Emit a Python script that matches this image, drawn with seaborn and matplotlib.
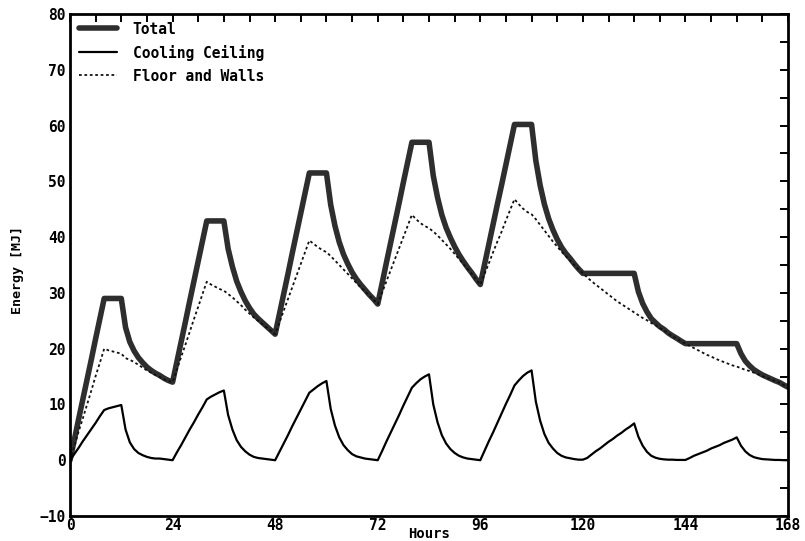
import numpy as np
import pandas as pd
import matplotlib
matplotlib.use("Agg")
import matplotlib.pyplot as plt
import seaborn as sns
from matplotlib.ticker import MultipleLocator

# ---- data (hourly values) ----
hours = list(range(0, 169))

total = [
    # day 1
    0, 3.6, 7.3, 10.9, 14.5, 18.1, 21.8, 25.4, 29.0, 29.0, 29.0, 29.0, 29.0,
    23.8, 21.2, 19.6, 18.4, 17.5, 16.7, 16.1, 15.6, 15.2, 14.7, 14.3,
    # day 2
    14.0, 17.6, 21.2, 24.8, 28.5, 32.1, 35.7, 39.3, 42.9, 42.9, 42.9, 42.9, 42.9,
    37.9, 34.7, 32.1, 30.2, 28.6, 27.3, 26.2, 25.4, 24.7, 24.0, 23.3,
    # day 3
    22.6, 26.2, 29.8, 33.4, 37.1, 40.7, 44.3, 47.9, 51.5, 51.5, 51.5, 51.5, 51.5,
    45.8, 42.0, 39.1, 36.9, 35.2, 33.7, 32.5, 31.5, 30.6, 29.7, 28.9,
    # day 4
    28.0, 31.6, 35.3, 38.9, 42.5, 46.1, 49.8, 53.4, 57.0, 57.0, 57.0, 57.0, 57.0,
    51.0, 47.1, 44.0, 41.7, 39.9, 38.3, 36.9, 35.7, 34.6, 33.6, 32.5,
    # day 5
    31.5, 35.1, 38.7, 42.3, 45.9, 49.4, 53.0, 56.6, 60.2, 60.2, 60.2, 60.2, 60.2,
    53.7, 49.3, 45.9, 43.3, 41.3, 39.6, 38.2, 37.1, 36.2, 35.2, 34.3,
    # day 6
    33.5, 33.5, 33.5, 33.5, 33.5, 33.5, 33.5, 33.5, 33.5, 33.5, 33.5, 33.5, 33.5,
    30.2, 28.1, 26.6, 25.4, 24.65, 23.95, 23.45, 22.8, 22.3, 21.85, 21.35,
    # day 7
    20.9, 20.9, 20.9, 20.9, 20.9, 20.9, 20.9, 20.9, 20.9, 20.9, 20.9, 20.9, 20.9,
    19.1, 17.8, 16.95, 16.25, 15.75, 15.3, 14.95, 14.6, 14.25, 13.95, 13.5,
    13.1,
]

cooling_ceiling = [
    0, 1.1, 2.2, 3.4, 4.5, 5.6, 6.7, 7.9, 9.0, 9.3, 9.5, 9.7, 9.9,
    5.5, 3.2, 2.0, 1.3, 0.9, 0.6, 0.4, 0.3, 0.3, 0.2, 0.1,
    0, 1.4, 2.7, 4.1, 5.5, 6.8, 8.2, 9.5, 10.9, 11.4, 11.8, 12.2, 12.5,
    8.1, 5.5, 3.6, 2.4, 1.6, 1.0, 0.6, 0.4, 0.3, 0.2, 0.1,
    0, 1.5, 3.0, 4.5, 6.1, 7.6, 9.1, 10.6, 12.1, 12.7, 13.3, 13.8, 14.2,
    9.2, 6.2, 4.1, 2.7, 1.8, 1.1, 0.7, 0.5, 0.3, 0.2, 0.1,
    0, 1.6, 3.3, 4.9, 6.5, 8.1, 9.8, 11.4, 13.0, 13.8, 14.5, 15.0, 15.4,
    10.0, 6.8, 4.5, 3.0, 2.0, 1.3, 0.8, 0.5, 0.3, 0.2, 0.1,
    0, 1.7, 3.4, 5.0, 6.7, 8.4, 10.1, 11.7, 13.4, 14.3, 15.1, 15.7, 16.1,
    10.5, 7.1, 4.7, 3.1, 2.1, 1.3, 0.8, 0.5, 0.35, 0.2, 0.1,
    0.1, 0.4, 1.0, 1.6, 2.1, 2.7, 3.3, 3.8, 4.4, 4.9, 5.5, 6.0, 6.6,
    4.2, 2.6, 1.5, 0.8, 0.45, 0.25, 0.15, 0.1, 0.1, 0.05, 0.05,
    0.05, 0.4, 0.8, 1.1, 1.4, 1.7, 2.1, 2.4, 2.7, 3.1, 3.4, 3.7, 4.1,
    2.6, 1.6, 0.95, 0.55, 0.35, 0.2, 0.15, 0.1, 0.05, 0.05, 0.0,
    0.0,
]

floor_and_walls = [
    0, 2.5, 5.1, 7.5, 10.0, 12.5, 15.1, 17.5, 20.0, 19.7, 19.5, 19.3, 19.1,
    18.3, 18.0, 17.6, 17.1, 16.6, 16.1, 15.7, 15.3, 14.9, 14.5, 14.2,
    14.0, 16.2, 18.5, 20.7, 23.0, 25.3, 27.5, 29.8, 32.0, 31.5, 31.1, 30.7, 30.4,
    29.8, 29.2, 28.5, 27.8, 27.0, 26.3, 25.6, 25.0, 24.4, 23.8, 23.2,
    22.6, 24.7, 26.8, 28.9, 31.0, 33.1, 35.2, 37.3, 39.4, 38.8, 38.2, 37.7, 37.3,
    36.6, 35.8, 35.0, 34.2, 33.4, 32.6, 31.8, 31.0, 30.3, 29.5, 28.8,
    28.0, 30.0, 32.0, 34.0, 36.0, 38.0, 40.0, 42.0, 44.0, 43.2, 42.5, 42.0, 41.6,
    41.0, 40.3, 39.5, 38.7, 37.9, 37.0, 36.1, 35.2, 34.3, 33.4, 32.4,
    31.5, 33.4, 35.3, 37.3, 39.2, 41.0, 43.0, 44.9, 46.8, 45.9, 45.1, 44.5, 44.1,
    43.2, 42.2, 41.2, 40.2, 39.2, 38.3, 37.4, 36.6, 35.8, 35.0, 34.2,
    33.5, 32.8, 32.1, 31.5, 30.9, 30.3, 29.7, 29.1, 28.5, 28.0, 27.5, 27.0, 26.5,
    26.0, 25.5, 25.1, 24.6, 24.2, 23.7, 23.3, 22.7, 22.2, 21.8, 21.3,
    20.9, 20.5, 20.1, 19.7, 19.3, 18.9, 18.6, 18.2, 17.9, 17.6, 17.3, 17.0, 16.8,
    16.5, 16.2, 16.0, 15.7, 15.4, 15.1, 14.8, 14.5, 14.2, 13.9, 13.5,
    13.1,
]

series_labels = ["Total", "Cooling Ceiling", "Floor and Walls"]
x_ticks = [0, 24, 48, 72, 96, 120, 144, 168]
y_ticks = [-10, 0, 10, 20, 30, 40, 50, 60, 70, 80]

df = pd.DataFrame({"Hours": hours, "Total": total,
                   "Cooling Ceiling": cooling_ceiling,
                   "Floor and Walls": floor_and_walls})

sns.set_theme(style="white")
plt.rcParams["font.family"] = ["DejaVu Sans Mono", "DejaVu Sans"]
plt.rcParams["font.weight"] = "bold"

fig = plt.figure(figsize=(8.05, 5.41), dpi=100)
ax = fig.add_axes([70 / 805, 25 / 541, 718 / 805, 502 / 541])

sns.lineplot(data=df, x="Hours", y="Total", ax=ax, color="#2e2e2e",
             linewidth=4.0, label=series_labels[0])
sns.lineplot(data=df, x="Hours", y="Cooling Ceiling", ax=ax, color="black",
             linewidth=1.6, label=series_labels[1])
sns.lineplot(data=df, x="Hours", y="Floor and Walls", ax=ax, color="#111111",
             linewidth=1.3, linestyle=(0, (1.5, 1.5)), label=series_labels[2])

ax.set_xlim(0, 168)
ax.set_ylim(-10, 80)
ax.set_xticks(x_ticks)
ax.set_yticks(y_ticks)
ax.xaxis.set_minor_locator(MultipleLocator(6))
ax.yaxis.set_minor_locator(MultipleLocator(5))
ax.tick_params(which="both", direction="in", top=True, right=True,
               length=6, width=1.4, color="black")
ax.tick_params(axis="x", which="major", labelsize=10.5, pad=1.5)
ax.tick_params(axis="y", which="major", labelsize=10.5, pad=3)
for lab in ax.get_xticklabels() + ax.get_yticklabels():
    lab.set_fontweight("bold")
    lab.set_color("black")

for sp in ax.spines.values():
    sp.set_visible(True)
    sp.set_color("black")
    sp.set_linewidth(2.0)

ax.set_xlabel("Hours", fontsize=10, fontweight="bold", color="black")
ax.set_ylabel("Energy [MJ]", fontsize=9.5, fontweight="bold", color="black")
ax.xaxis.set_label_coords(0.5, -0.022)
ax.yaxis.set_label_coords(-0.064, 0.49)

leg = ax.legend(loc="upper left", bbox_to_anchor=(0.012, 0.985), frameon=False,
                prop={"family": "DejaVu Sans Mono", "weight": "bold", "size": 10.5},
                handlelength=2.6, handletextpad=1.1, labelspacing=0.55,
                borderpad=0.0, borderaxespad=0.0)
for t in leg.get_texts():
    t.set_color("black")

fig.savefig("out.png", dpi=100)
